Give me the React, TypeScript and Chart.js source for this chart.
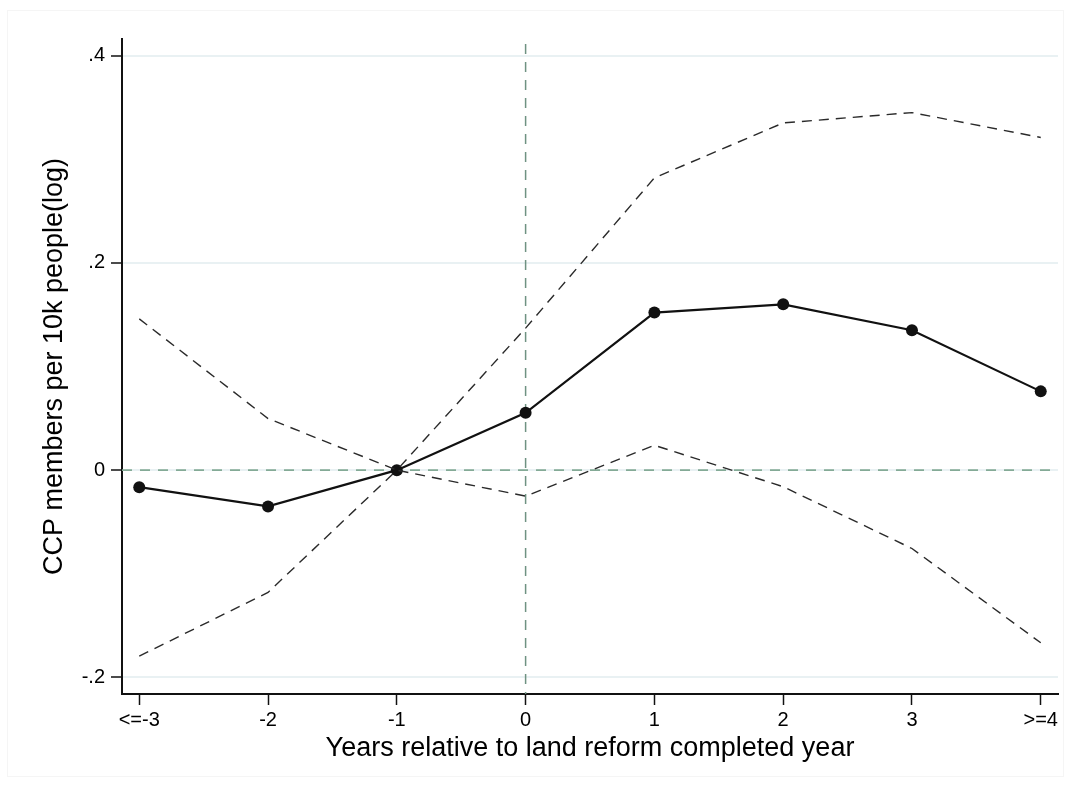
import React, { useEffect, useRef } from "react";
import { Chart, registerables } from "chart.js";

Chart.register(...registerables);

const xPositions = [0, 1, 2, 3, 4, 5, 6, 7];
const xTickLabels = ["<=-3", "-2", "-1", "0", "1", "2", "3", ">=4"];
const estimate = [-0.0164, -0.035, 0, 0.0553, 0.152, 0.16, 0.135, 0.076];
const upperCI = [0.146, 0.0498, 0, 0.137, 0.282, 0.335, 0.345, 0.321];
const lowerCI = [-0.1794, -0.118, 0, -0.0251, 0.024, -0.016, -0.0756, -0.1666];
const yTickValues = [-0.2, 0, 0.2, 0.4];
const eventX = 3;

const FONT = "'Liberation Sans', Arial, Helvetica, sans-serif";

function fmtY(v: number): string {
  if (Math.abs(v) < 1e-9) return "0";
  const s = (Math.round(v * 10) / 10).toString();
  return s.replace("0.", ".");
}

const refLines = {
  id: "refLines",
  beforeDatasetsDraw(chart: any) {
    const { ctx, chartArea, scales } = chart;
    const x = scales.x.getPixelForValue(eventX);
    const y0 = scales.y.getPixelForValue(0);
    ctx.save();
    ctx.strokeStyle = "#84aa96";
    ctx.lineWidth = 1.7;
    ctx.setLineDash([10, 8]);
    ctx.beginPath();
    ctx.moveTo(chartArea.left, y0);
    ctx.lineTo(chartArea.right, y0);
    ctx.stroke();
    ctx.strokeStyle = "#6f9282";
    ctx.lineWidth = 1.5;
    ctx.beginPath();
    ctx.moveTo(x, chartArea.top + 5);
    ctx.lineTo(x, chartArea.bottom);
    ctx.stroke();
    ctx.restore();
  },
};

const titles = {
  id: "titles",
  afterDraw(chart: any) {
    const { ctx, chartArea } = chart;
    ctx.save();
    ctx.fillStyle = "#000";
    ctx.font = `27px ${FONT}`;
    ctx.textAlign = "center";
    ctx.textBaseline = "alphabetic";
    ctx.fillText(
      "Years relative to land reform completed year",
      (chartArea.left + chartArea.right) / 2,
      756
    );
    ctx.translate(62, (chartArea.top + chartArea.bottom) / 2);
    ctx.rotate(-Math.PI / 2);
    ctx.fillText("CCP members per 10k people(log)", 0, 0);
    ctx.restore();
  },
};

export default function App() {
  const ref = useRef<HTMLCanvasElement | null>(null);

  useEffect(() => {
    if (!ref.current) return;
    const chart = new Chart(ref.current, {
      type: "line",
      data: {
        datasets: [
          {
            label: "upper",
            data: xPositions.map((x, i) => ({ x, y: upperCI[i] })),
            borderColor: "#2a2a2a",
            borderWidth: 1.4,
            borderDash: [10, 7],
            pointRadius: 0,
            fill: false,
          },
          {
            label: "lower",
            data: xPositions.map((x, i) => ({ x, y: lowerCI[i] })),
            borderColor: "#2a2a2a",
            borderWidth: 1.4,
            borderDash: [10, 7],
            pointRadius: 0,
            fill: false,
          },
          {
            label: "estimate",
            data: xPositions.map((x, i) => ({ x, y: estimate[i] })),
            borderColor: "#111",
            backgroundColor: "#111",
            borderWidth: 2.2,
            pointRadius: 6,
            pointBorderWidth: 0,
            pointBackgroundColor: "#111",
            fill: false,
          },
        ],
      },
      options: {
        animation: false,
        responsive: false,
        maintainAspectRatio: false,
        layout: { padding: { left: 0, right: 13, top: 39, bottom: 0 } },
        plugins: {
          legend: { display: false },
          tooltip: { enabled: false },
        },
        scales: {
          x: {
            type: "linear",
            min: -0.134,
            max: 7.134,
            afterBuildTicks: (scale: any) => {
              scale.ticks = xPositions.map((v) => ({ value: v }));
            },
            afterFit: (scale: any) => {
              scale.height = 93;
            },
            border: { display: true, color: "#111", width: 2 },
            grid: {
              display: true,
              drawOnChartArea: false,
              drawTicks: true,
              tickLength: 11,
              tickColor: "#111",
              tickWidth: 1.5,
            },
            ticks: {
              padding: 3,
              maxRotation: 0,
              autoSkip: false,
              color: "#000",
              font: { family: FONT, size: 20 },
              callback: (v: any) => {
                const i = xPositions.indexOf(Number(v));
                return i >= 0 ? xTickLabels[i] : "";
              },
            },
          },
          y: {
            type: "linear",
            min: -0.216,
            max: 0.416,
            afterBuildTicks: (scale: any) => {
              scale.ticks = yTickValues.map((v) => ({ value: v }));
            },
            afterFit: (scale: any) => {
              scale.width = 122;
            },
            border: { display: true, color: "#111", width: 2 },
            grid: {
              display: true,
              drawOnChartArea: true,
              color: "#e9f1f3",
              lineWidth: 2,
              drawTicks: true,
              tickLength: 11,
              tickColor: "#111",
              tickWidth: 1.5,
            },
            ticks: {
              padding: 6,
              color: "#000",
              font: { family: FONT, size: 20 },
              callback: (v: any) => fmtY(Number(v)),
            },
          },
        },
      },
      plugins: [refLines, titles],
    });
    return () => chart.destroy();
  }, []);

  return (
    <div
      style={{
        position: "fixed",
        left: 0,
        top: 0,
        width: 1071,
        height: 787,
        background: "#fff",
      }}
    >
      <div
        style={{
          position: "absolute",
          left: 7,
          top: 10,
          width: 1057,
          height: 767,
          border: "1px solid #f5f5f5",
          boxSizing: "border-box",
        }}
      />
      <canvas
        ref={ref}
        width={1071}
        height={787}
        style={{ position: "absolute", left: 0, top: 0, width: 1071, height: 787 }}
      />
    </div>
  );
}
